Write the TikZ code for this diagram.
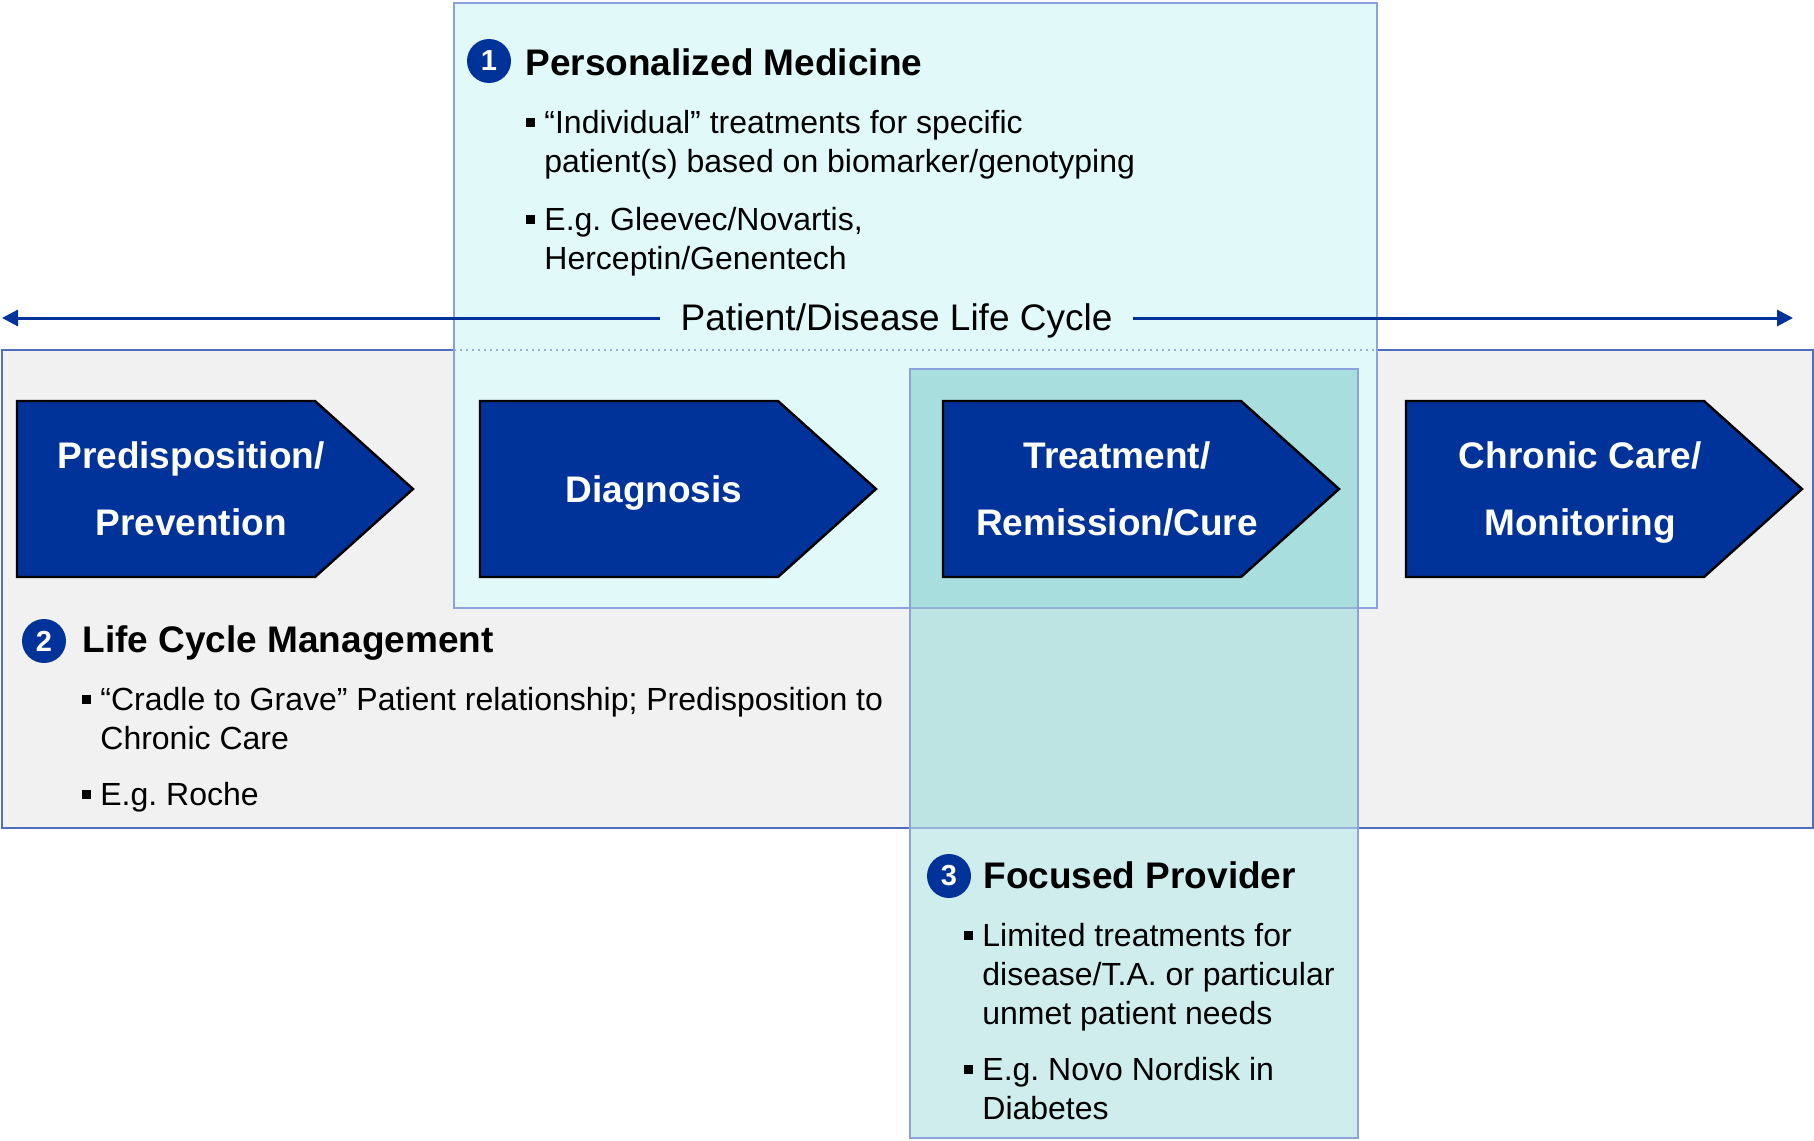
\documentclass[tikz,border=0pt]{standalone}
\usepackage{fontspec}
\setmainfont{Liberation Sans}
\usetikzlibrary{arrows.meta}
\definecolor{navy}{RGB}{0,51,153}
\definecolor{outerframe}{RGB}{80,110,190}
\definecolor{innerframe}{RGB}{140,162,220}
\definecolor{faintframe}{RGB}{150,175,215}
\definecolor{greyfill}{RGB}{241,241,241}
\definecolor{cyanfill}{RGB}{226,249,249}
\definecolor{tealdeep}{RGB}{168,222,222}
\definecolor{tealgrey}{RGB}{190,227,227}
\definecolor{teallight}{RGB}{207,237,237}

\begin{document}
\begin{tikzpicture}[x=0.5pt,y=-0.5pt,
  stage/.style={fill=navy,draw=black,line width=1.2pt,line join=miter},
  stagetext/.style={text=white,font=\fontsize{18.5}{33.5}\selectfont\bfseries,align=center,inner sep=0pt},
  num/.style={circle,fill=navy,text=white,font=\fontsize{14.5}{14.5}\selectfont\bfseries,minimum size=22pt,inner sep=0pt},
  heading/.style={font=\fontsize{18.5}{22}\selectfont\bfseries,anchor=base west,inner sep=0pt},
  bullet/.style={font=\fontsize{16}{19.5}\selectfont\frenchspacing,anchor=base west,inner sep=0pt,align=left},
  lifeline/.style={draw=navy,line width=1.5pt,-{Triangle[length=8pt,width=8pt]}},
]
\newcommand{\sqmark}{\llap{\rule[0.19em]{0.28em}{0.28em}\hspace{0.28em}}}
\useasboundingbox (0,0) rectangle (1814,1140);

% life-cycle band
\fill[greyfill] (2,350) rectangle (1813,828);
\draw[outerframe,line width=1pt] (2,350) rectangle (1813,828);

% panel 1: personalized medicine
\fill[cyanfill] (454,3) rectangle (1377,608);
\draw[faintframe,line width=1pt,dotted] (454,350) -- (1377,350);
\draw[innerframe,line width=1pt] (454,3) rectangle (1377,608);

% panel 3: focused provider, shaded by what lies beneath
\fill[tealdeep] (910,369) rectangle (1358,608);
\fill[tealgrey] (910,608) rectangle (1358,828);
\fill[teallight] (910,828) rectangle (1358,1138);
\draw[faintframe,line width=1pt] (910,608) -- (1358,608);
\draw[faintframe,line width=1pt] (910,828) -- (1358,828);
\draw[innerframe,line width=1pt] (910,369) rectangle (1358,1138);

% life-cycle axis
\coordinate (tipL) at (2,318);
\coordinate (tipR) at (1793,318);
\node[font=\fontsize{18.5}{22}\selectfont,anchor=base,inner xsep=10pt,inner ysep=0pt] (axis) at (896.5,330) {Patient/Disease Life Cycle};
\draw[lifeline] (axis.west |- tipL) -- (tipL);
\draw[lifeline] (axis.east |- tipR) -- (tipR);

% stages
\foreach \L in {17,480,943,1406}{
  \draw[stage] (\L,401) -- (\L+298,401) -- (\L+396,489) -- (\L+298,577) -- (\L,577) -- cycle;
}
\node[stagetext] (s1) at (191,489) {Predisposition/\\Prevention};
\node[stagetext] (s2) at (654,493) {Diagnosis};
\node[stagetext] (s3) at (1117,489) {Treatment/\\Remission/Cure};
\node[stagetext] (s4) at (1580,493) {Chronic Care/\\Monitoring};

% panel 1 text
\node[num] (n1) at (489,61) {1};
\node[heading] (h1) at (525,75) {Personalized Medicine};
\node[bullet] (b11) at (544,172) {\sqmark“Individual” treatments for specific\\patient(s) based on biomarker/genotyping};
\node[bullet] (b12) at (544,269) {\sqmark E.g. Gleevec/Novartis,\\Herceptin/Genentech};

% panel 2 text
\node[num] (n2) at (44,641) {2};
\node[heading] (h2) at (82,652) {Life Cycle Management};
\node[bullet] (b21) at (100,749) {\sqmark“Cradle to Grave” Patient relationship; Predisposition to\\Chronic Care};
\node[bullet] (b22) at (100,805) {\sqmark E.g. Roche};

% panel 3 text
\node[num] (n3) at (949,876) {3};
\node[heading] (h3) at (983,888) {Focused Provider};
\node[bullet] (b31) at (982,1024) {\sqmark Limited treatments for\\disease/T.A. or particular\\unmet patient needs};
\node[bullet] (b32) at (982,1119) {\sqmark E.g. Novo Nordisk in\\Diabetes};
\end{tikzpicture}
\end{document}
